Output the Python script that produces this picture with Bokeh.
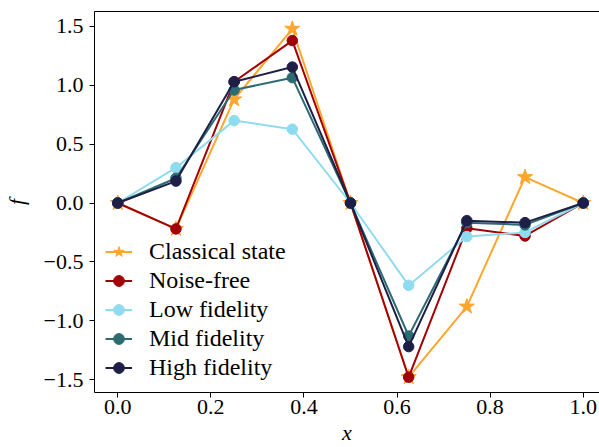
from bokeh.plotting import figure
from bokeh.models import Range1d, FixedTicker, LinearAxis, Legend
from bokeh.embed import file_html
from bokeh.resources import INLINE

x = [0.0, 0.125, 0.25, 0.375, 0.5, 0.625, 0.75, 0.875, 1.0]
classical = [0.0, -0.22, 0.88, 1.48, 0.0, -1.48, -0.88, 0.22, 0.0]
noise_free = [0.0, -0.22, 1.03, 1.38, 0.0, -1.48, -0.215, -0.28, 0.0]
low_fid = [0.0, 0.30, 0.70, 0.627, 0.0, -0.70, -0.285, -0.25, 0.0]
mid_fid = [0.0, 0.21, 0.96, 1.065, 0.0, -1.13, -0.167, -0.186, 0.0]
high_fid = [0.0, 0.186, 1.03, 1.155, 0.0, -1.22, -0.15, -0.167, 0.0]

x_ticks = [0.0, 0.2, 0.4, 0.6, 0.8, 1.0]
x_tick_labels = ["0.0", "0.2", "0.4", "0.6", "0.8", "1.0"]
y_ticks = [-1.5, -1.0, -0.5, 0.0, 0.5, 1.0, 1.5]
y_tick_labels = ["\u22121.5", "\u22121.0", "\u22120.5", "0.0", "0.5", "1.0", "1.5"]

FONT = "Liberation Serif"
FS = "22px"

p = figure(width=599, height=447, output_backend="svg", toolbar_location=None,
           x_range=Range1d(-0.05, 1.035), y_range=Range1d(-1.61, 1.627),
           min_border_left=92, min_border_right=0, min_border_top=11, min_border_bottom=54)
p.grid.grid_line_color = None
p.outline_line_color = None
p.background_fill_color = "white"

for ax in (p.xaxis[0], p.yaxis[0]):
    ax.major_label_text_font = FONT
    ax.major_label_text_font_size = FS
    ax.major_label_text_color = "black"
    ax.axis_label_text_font = FONT
    ax.axis_label_text_font_size = FS
    ax.axis_label_text_font_style = "italic"
    ax.axis_label_text_color = "black"
    ax.major_tick_out = 5
    ax.major_tick_in = 0
    ax.minor_tick_line_color = None
    ax.axis_line_color = "black"
    ax.major_tick_line_color = "black"

p.xaxis.ticker = FixedTicker(ticks=x_ticks)
p.xaxis.major_label_overrides = dict(zip(x_ticks, x_tick_labels))
p.yaxis.ticker = FixedTicker(ticks=y_ticks)
p.yaxis.major_label_overrides = dict(zip(y_ticks, y_tick_labels))
p.xaxis.axis_label = "x"
p.yaxis.axis_label = "f"
p.xaxis.major_label_standoff = 2
p.yaxis.major_label_standoff = 6
p.xaxis.axis_label_standoff = 3
p.yaxis.axis_label_standoff = 12

top = LinearAxis(ticker=FixedTicker(ticks=[]), major_tick_out=0, major_tick_in=0,
                 minor_tick_line_color=None, major_label_text_font_size="0px",
                 major_label_standoff=0, axis_line_color="black")
p.add_layout(top, "above")

series = [
    ("Classical state", classical, "#FFA62F", "star", 16),
    ("Noise-free", noise_free, "#A30005", "circle", 10.5),
    ("Low fidelity", low_fid, "#8FDBEF", "circle", 10.5),
    ("Mid fidelity", mid_fid, "#2D6B73", "circle", 10.5),
    ("High fidelity", high_fid, "#1E1F47", "circle", 10.5),
]

items = []
for name, ys, col, mk, sz in series:
    l = p.line(x, ys, line_color=col, line_width=2)
    s = p.scatter(x, ys, marker=mk, size=sz, fill_color=col, line_color=col)
    items.append((name, [l, s]))

leg = Legend(items=items, location=(6, 5), border_line_alpha=0, background_fill_alpha=0,
             label_text_font=FONT, label_text_font_size="24px", label_text_color="black",
             glyph_width=27, glyph_height=29,
             label_height=29, label_standoff=17, spacing=0, padding=5, margin=0)
p.add_layout(leg, "center")

open("out.html", "w").write(file_html(p, INLINE))
